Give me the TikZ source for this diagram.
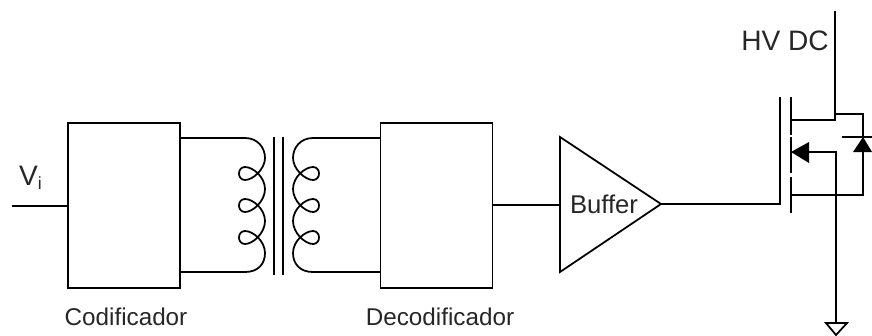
\documentclass[tikz,border=0pt]{standalone}
\usepackage{fontspec}
\setmainfont{Liberation Sans}
\usepackage{tikz}
\usetikzlibrary {arrows.meta}
\tikzset{
  block/.style={draw, rectangle, minimum width=22.4mm, minimum height=33mm, inner sep=0pt},
  wire/.style={line width=1pt},
  lbl/.style={inner sep=0pt, text=black!85, font=\fontsize{16}{18}\selectfont},
  caption/.style={inner sep=0pt, text=black!85, font=\fontsize{13.8}{16}\selectfont},
}
\newcommand{\coilturns}{
  (245,138) .. controls (258,138) and (265,148) .. (265,158)
  .. controls (265,169) and (253,180) .. (245,180)
  .. controls (237,180) and (237,167) .. (245,167)
  .. controls (253,167) and (265,177) .. (265,189)
  .. controls (265,201) and (253,212) .. (245,212)
  .. controls (237,212) and (237,199) .. (245,199)
  .. controls (253,199) and (265,209) .. (265,221)
  .. controls (265,233) and (253,244) .. (245,244)
  .. controls (237,244) and (237,231) .. (245,231)
  .. controls (253,231) and (265,241) .. (265,253)
  .. controls (265,264) and (258,272) .. (245,272)
}
\begin{document}
\begin{tikzpicture}[x=0.2mm, y=-0.2mm, wire]
\useasboundingbox (0,0) rectangle (872,335);
% blocks
\path (124,205.5) node (cod) [block] {};
\path (436.5,205.5) node (dec) [block] {};
\path (126,317) node (codlabel) [caption] {Codificador};
\path (440,317) node (declabel) [caption] {Decodificador};
% input
\coordinate (in) at (12,206);
\path (31,178) node (vi) [lbl] {V\textsubscript{\fontsize{10}{10}\selectfont i}};
\draw (in) -- (in -| cod.west);
% transformer
\coordinate (pritop) at (245,138);
\coordinate (pribot) at (245,272);
\coordinate (sectop) at (313,138);
\coordinate (secbot) at (313,272);
\draw (pritop -| cod.east) -- (pritop);
\draw (pribot -| cod.east) -- (pribot);
\draw (sectop -| dec.west) -- (sectop);
\draw (secbot -| dec.west) -- (secbot);
\draw \coilturns;
\begin{scope}[xshift=111.6mm, xscale=-1]
\draw \coilturns;
\end{scope}
\draw (274,137) -- (274,275);
\draw (283,137) -- (283,275);
% buffer
\coordinate (bufa) at (560,137);
\coordinate (bufb) at (560,272);
\coordinate (bufc) at (661,204);
\draw (bufa) -- (bufc) -- (bufb) -- cycle;
\path (604,204) node (buf) [lbl, font=\fontsize{14.6}{18}\selectfont] {Buffer};
\draw (dec.east |- 0,205) -- (560,205);
% mosfet
\coordinate (gatetop) at (780,97);
\coordinate (gatebot) at (780,204);
\draw (bufc) -- (gatebot) -- (gatetop);
\draw (791,97) -- (791,135);
\draw (791,137) -- (791,173);
\draw (791,177) -- (791,213);
\path (785,41) node (hv) [lbl] {HV DC};
\coordinate (hvtop) at (835,11);
\coordinate (drain) at (835,120);
\coordinate (dtop) at (835,114);
\coordinate (dright) at (863,114);
\coordinate (sright) at (863,195);
\coordinate (source) at (791,195);
\draw (hvtop) -- (drain) -- (791,120);
\draw (dtop) -- (dright) -- (sright) -- (source);
% body arrow and ground
\coordinate (body) at (809,152);
\coordinate (gnd) at (836,323);
\fill (791,152) -- (809,142) -- (809,163) -- cycle;
\draw (body) -- (836,152) -- (gnd);
\draw (826,323) -- (847,323) -- (836,335) -- cycle;
% diode
\fill (863,137) -- (853,152) -- (872,152) -- cycle;
\draw (842,137) -- (872,137);
\end{tikzpicture}
\end{document}
